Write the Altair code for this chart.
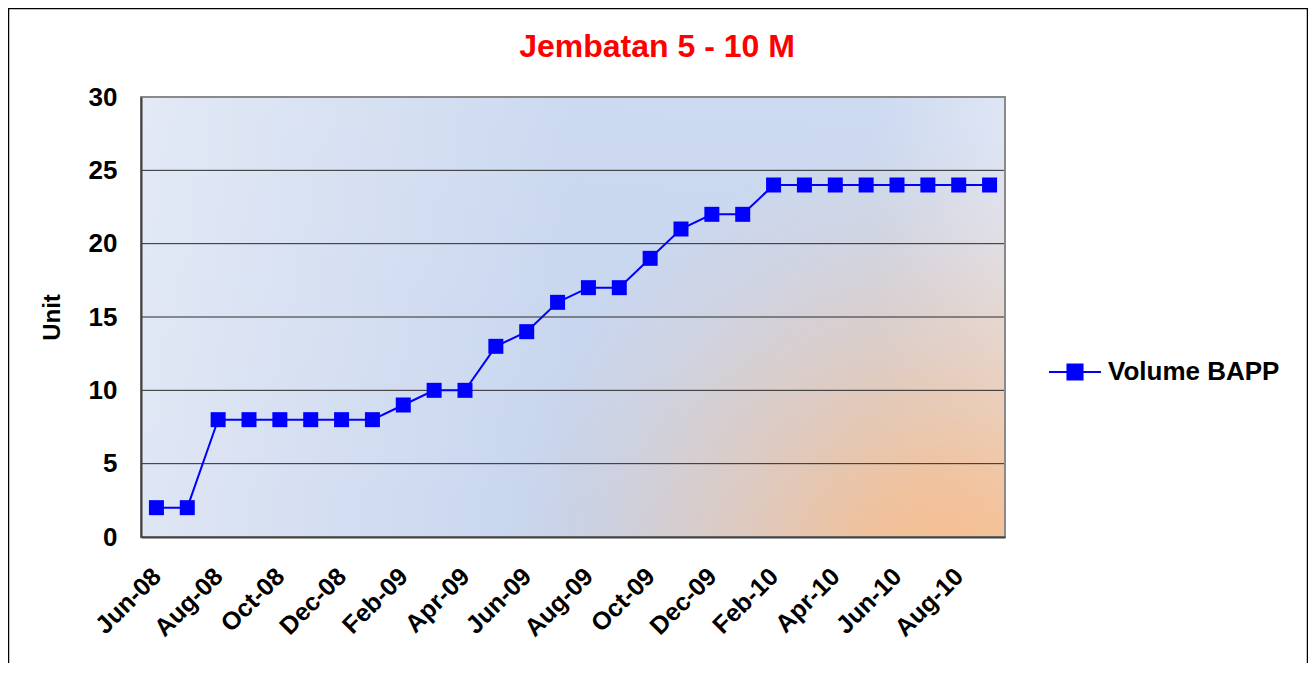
import altair as alt
import pandas as pd

# ---- data ----
months = ["Jun-08", "Jul-08", "Aug-08", "Sep-08", "Oct-08", "Nov-08", "Dec-08",
          "Jan-09", "Feb-09", "Mar-09", "Apr-09", "May-09", "Jun-09", "Jul-09",
          "Aug-09", "Sep-09", "Oct-09", "Nov-09", "Dec-09", "Jan-10", "Feb-10",
          "Mar-10", "Apr-10", "May-10", "Jun-10", "Jul-10", "Aug-10", "Sep-10"]
values = [2, 2, 8, 8, 8, 8, 8, 8, 9, 10, 10, 13, 14, 16, 17, 17, 19, 21, 22, 22,
          24, 24, 24, 24, 24, 24, 24, 24]
tick_labels = months[::2]
y_ticks = [0, 5, 10, 15, 20, 25, 30]
grid_values = [5, 10, 15, 20, 25]
series_name = "Volume BAPP"
title_text = "Jembatan 5 - 10 M"
y_title = "Unit"

W, H = 864, 440
FONT = "Liberation Sans"
BLUE = "#0000FF"

df = pd.DataFrame({"month": months, "value": values, "series": series_name})
grid_df = pd.DataFrame({"value": grid_values})
one = pd.DataFrame({"k": [0]})

y_scale = alt.Scale(domain=[0, 30], nice=False, zero=True)
y_axis = alt.Axis(values=y_ticks, title=y_title, titleX=-89, titleY=H / 2,
                  titleAngle=-90, titleBaseline="middle", titleFont=FONT,
                  titleFontSize=24, titleFontWeight="bold", titleColor="#000",
                  labelFont=FONT, labelFontSize=26, labelFontWeight="bold",
                  labelColor="#000", labelPadding=24, ticks=False, grid=False,
                  domainColor="#404040", domainWidth=2, zindex=1)

x_enc = alt.X("month:O", sort=months,
              scale=alt.Scale(type="point", padding=0.5),
              axis=alt.Axis(values=tick_labels, labelAngle=-45, labelAlign="right",
                            labelBaseline="middle", labelPadding=35, ticks=False,
                            domainColor="#404040", domainWidth=2, labelFont=FONT,
                            labelFontSize=25, labelFontWeight="bold",
                            labelColor="#000", title=None, grid=False,
                            labelOverlap=False, zindex=1))

# ---- background ----
def rgba(a, c=(247, 190, 142)):
    return "rgba(%d,%d,%d,%.3f)" % (c[0], c[1], c[2], a)

bg_base = alt.Chart(one).mark_rect(
    clip=True,
    color=alt.Gradient(
        gradient="linear", x1=0, y1=0, x2=1, y2=0,
        stops=[alt.GradientStop(color="#DFE6F4", offset=0),
               alt.GradientStop(color="#C5D4EE", offset=0.5),
               alt.GradientStop(color="#C6D5EE", offset=0.85),
               alt.GradientStop(color="#DAE2F3", offset=1)])
).encode(x=alt.value(0), x2=alt.value(W), y=alt.value(0), y2=alt.value(H))

bg_white = alt.Chart(one).mark_rect(
    clip=True,
    color=alt.Gradient(
        gradient="linear", x1=0, y1=0, x2=0, y2=1,
        stops=[alt.GradientStop(color="rgba(255,255,255,0.12)", offset=0),
               alt.GradientStop(color="rgba(255,255,255,0)", offset=1)])
).encode(x=alt.value(0), x2=alt.value(W), y=alt.value(0), y2=alt.value(H))

R = 440
CX, CY = W - 60, H + 40
bg_orange = alt.Chart(one).mark_rect(
    clip=True,
    color=alt.Gradient(
        gradient="radial", x1=0.5, y1=0.5, r1=0, x2=0.5, y2=0.5, r2=0.5,
        stops=[alt.GradientStop(color=rgba(1.0), offset=0),
               alt.GradientStop(color=rgba(0.85), offset=0.2),
               alt.GradientStop(color=rgba(0.45), offset=0.5),
               alt.GradientStop(color=rgba(0.15), offset=0.78),
               alt.GradientStop(color=rgba(0.0), offset=1)])
).encode(x=alt.value(CX - R), x2=alt.value(CX + R),
         y=alt.value(CY - R), y2=alt.value(CY + R))

grid = alt.Chart(grid_df).mark_rule(color="#2a2a2a", strokeWidth=1).encode(
    y=alt.Y("value:Q", scale=y_scale, axis=y_axis))

border = alt.Chart(one).mark_rect(fillOpacity=0, stroke="#8a8a8a", strokeWidth=2).encode(
    x=alt.value(0), x2=alt.value(W), y=alt.value(0), y2=alt.value(H))

# ---- series ----
line = alt.Chart(df).mark_line(color=BLUE, strokeWidth=2).encode(
    x=x_enc, y=alt.Y("value:Q", scale=y_scale, axis=y_axis))

symbol_path = "M-1,0L1,0M-0.29,-0.29L0.29,-0.29L0.29,0.29L-0.29,0.29Z"
points = alt.Chart(df).mark_point(shape="square", filled=True, size=225, opacity=1).encode(
    x=x_enc, y=alt.Y("value:Q", scale=y_scale, axis=y_axis),
    color=alt.Color("series:N", scale=alt.Scale(domain=[series_name], range=[BLUE]),
                    legend=alt.Legend(title=None, orient="none", legendX=907, legendY=248,
                                      symbolType=symbol_path, symbolSize=2704,
                                      symbolFillColor=BLUE, symbolStrokeColor=BLUE,
                                      symbolStrokeWidth=2, symbolOpacity=1,
                                      labelFont=FONT, labelFontSize=26,
                                      labelFontWeight="bold", labelColor="#000",
                                      labelOffset=6, labelLimit=400, padding=0)))

# ---- text / frame ----
title = alt.Chart(one).mark_text(text=title_text, font=FONT, fontSize=32, fontWeight="bold",
                                 color="#FF0000", align="center", baseline="alphabetic").encode(
    x=alt.value(516), y=alt.value(-40))

frame = alt.Chart(one).mark_rect(fillOpacity=0, stroke="#000", strokeWidth=1.5).encode(
    x=alt.value(-132.5), x2=alt.value(1166.5), y=alt.value(-88.5), y2=alt.value(700))

chart = alt.layer(bg_base, bg_white, bg_orange, grid, border, line, points, title, frame).properties(
    width=W, height=H,
    autosize=alt.AutoSizeParams(type="none"),
    padding={"left": 133, "top": 89, "right": 303, "bottom": 126},
).configure_view(stroke=None).configure(background="#FFFFFF")

chart.save("out.html", embed_options={"renderer": "svg", "actions": False})
